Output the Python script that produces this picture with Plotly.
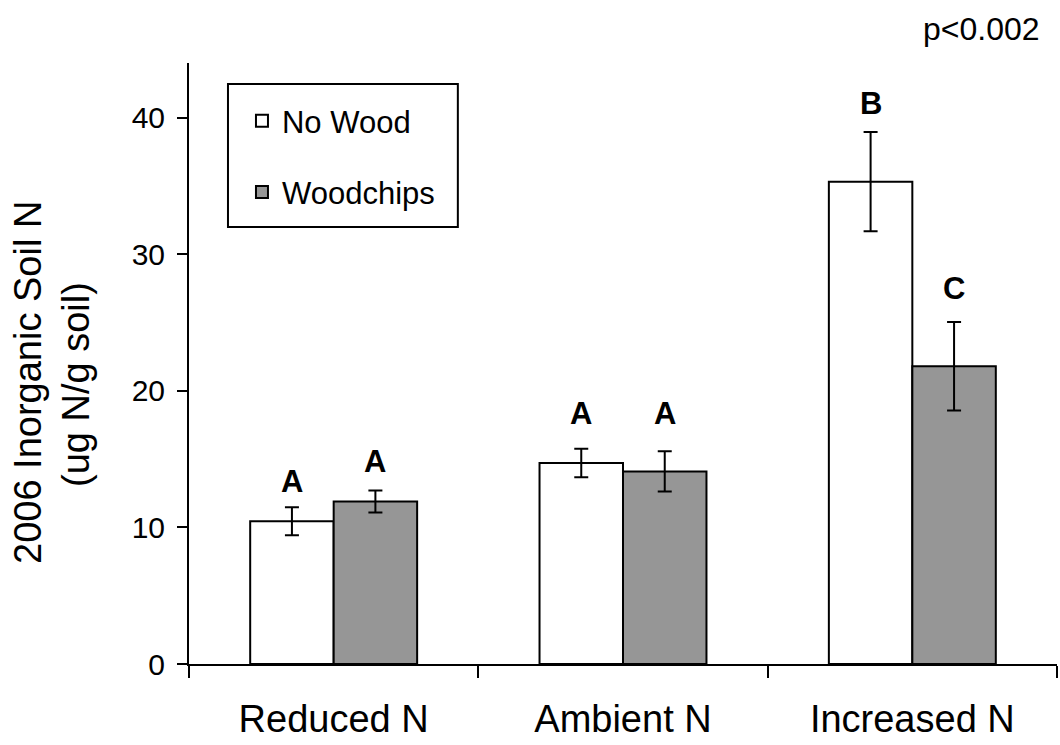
import plotly.graph_objects as go

categories = ["Reduced N", "Ambient N", "Increased N"]
series_names = ["No Wood", "Woodchips"]
no_wood = [10.45, 14.71, 35.31]
no_wood_err = [1.03, 1.04, 3.63]
woodchips = [11.90, 14.10, 21.80]
woodchips_err = [0.80, 1.47, 3.24]
letters_no_wood = ["A", "A", "B"]
letters_woodchips = ["A", "A", "C"]
letter_y_no_wood = [13.33, 18.31, 41.0]
letter_y_woodchips = [14.79, 18.31, 27.5]
y_ticks = [0, 10, 20, 30, 40]
y_title_lines = ["2006 Inorganic Soil N", "(ug N/g soil)"]
p_label = "p<0.002"

FONT = "Liberation Sans, Arial, sans-serif"
L, R, T, B = 189, 2.5, 63, 81
W, H = 1060, 745
PW, PH = W - L - R, H - T - B

def px_x(p):
    return (p - L) / PW

def px_y(p):
    return (H - B - p) / PH

fig = go.Figure()
fig.add_trace(go.Bar(
    name=series_names[0], x=categories, y=no_wood, legendgroup="a",
    marker=dict(color="white", line=dict(color="black", width=2)),
    error_y=dict(type="data", array=no_wood_err, visible=True, color="black", thickness=2, width=7),
))
fig.add_trace(go.Bar(
    name=series_names[1], x=categories, y=woodchips, legendgroup="b",
    marker=dict(color="#969696", line=dict(color="black", width=2)),
    error_y=dict(type="data", array=woodchips_err, visible=True, color="black", thickness=2, width=7),
))

annotations = []
for i, c in enumerate(categories):
    annotations.append(dict(x=c, y=letter_y_no_wood[i], xref="x", yref="y", text=letters_no_wood[i],
                            showarrow=False, xshift=-41.75, yanchor="middle",
                            font=dict(family=FONT, size=31, color="black", weight="bold")))
    annotations.append(dict(x=c, y=letter_y_woodchips[i], xref="x", yref="y", text=letters_woodchips[i],
                            showarrow=False, xshift=41.75, yanchor="middle",
                            font=dict(family=FONT, size=31, color="black", weight="bold")))

annotations.append(dict(x=1.0, y=px_y(29), xref="paper", yref="paper", text=p_label, showarrow=False,
                        xanchor="right", yanchor="middle", xshift=-15,
                        font=dict(family=FONT, size=32, color="black")))
annotations.append(dict(x=0, y=px_y(383), xref="paper", yref="paper", text=y_title_lines[0], showarrow=False,
                        textangle=-90, xanchor="center", yanchor="middle", xshift=-L + 28,
                        font=dict(family=FONT, size=38, color="black")))
annotations.append(dict(x=0, y=px_y(385), xref="paper", yref="paper", text=y_title_lines[1], showarrow=False,
                        textangle=-90, xanchor="center", yanchor="middle", xshift=-L + 76,
                        font=dict(family=FONT, size=38, color="black")))

fig.update_layout(
    width=W, height=H,
    margin=dict(l=L, r=R, t=T, b=B),
    paper_bgcolor="white", plot_bgcolor="white",
    barmode="group", bargap=0.423, bargroupgap=0,
    font=dict(family=FONT, color="black"),
    showlegend=True,
    legend=dict(x=px_x(242), y=px_y(94), xanchor="left", yanchor="top",
                borderwidth=0, bgcolor="rgba(0,0,0,0)",
                font=dict(family=FONT, size=31, color="black"),
                tracegroupgap=28, traceorder="grouped"),
    shapes=[dict(type="rect", xref="paper", yref="paper",
                 x0=px_x(228), x1=px_x(458), y0=px_y(227), y1=px_y(84),
                 line=dict(color="black", width=2), fillcolor="white", layer="below")],
    annotations=annotations,
)
fig.update_xaxes(
    showline=True, linecolor="black", linewidth=2,
    ticks="outside", tickson="boundaries", ticklen=12, tickwidth=2, tickcolor="black",
    ticklabelstandoff=20,
    tickfont=dict(family=FONT, size=38, color="black"),
    showgrid=False, zeroline=False, range=[-0.5, 2.5],
)
fig.update_yaxes(
    showline=True, linecolor="black", linewidth=2,
    ticks="outside", ticklen=10, tickwidth=2, tickcolor="black",
    tickvals=y_ticks, ticklabelstandoff=6,
    tickfont=dict(family=FONT, size=30, color="black"),
    showgrid=False, zeroline=False, range=[0, 44],
)
fig.write_html("out.html", config={"displayModeBar": False},
               post_script="document.body.style.margin='0';document.body.style.padding='0';")
